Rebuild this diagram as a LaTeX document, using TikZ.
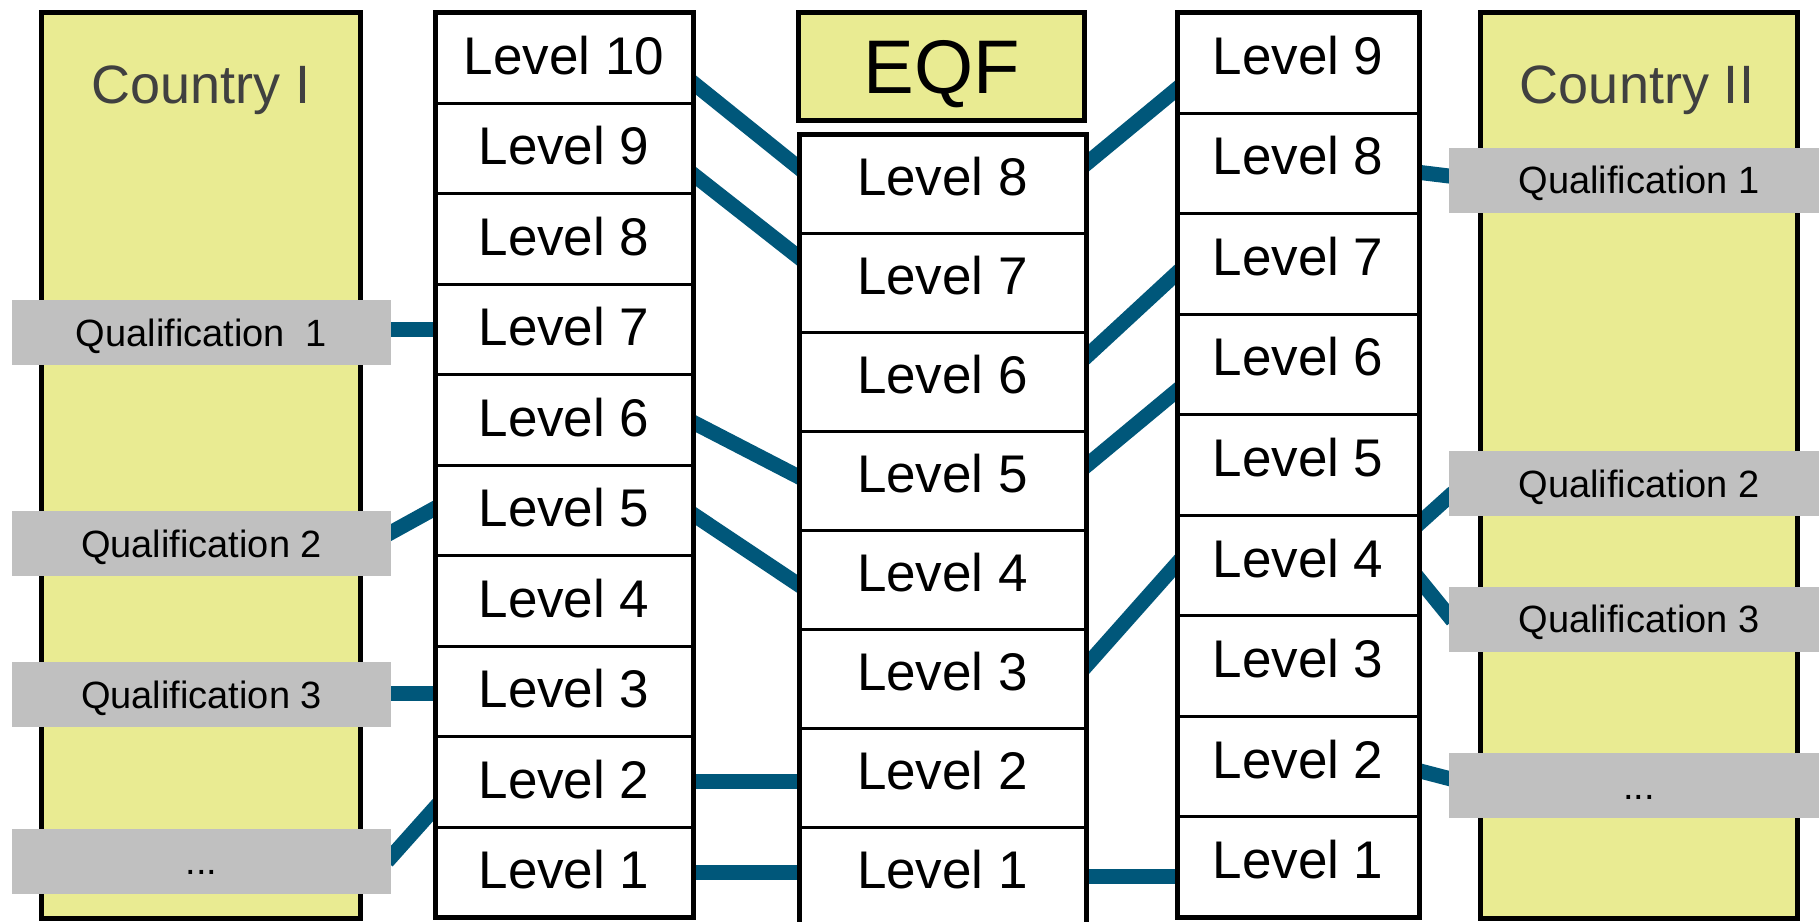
\documentclass[tikz,border=0pt]{standalone}
\usepackage{fontspec}
\setmainfont{Liberation Sans}
\definecolor{panel}{RGB}{233,235,146}
\definecolor{tag}{RGB}{192,192,192}
\definecolor{link}{RGB}{0,87,122}
\definecolor{caption}{RGB}{64,64,64}
\pgfdeclarelayer{bg}
\pgfsetlayers{bg,main}
\tikzset{
  country/.style={draw, line width=5pt, fill=panel, inner sep=0pt, outer sep=0pt},
  ctrytext/.style={font=\fontsize{54}{60}\selectfont, text=caption, inner sep=0pt,
    text height=38.7pt, text depth=0pt},
  levelrow/.style={draw, line width=3pt, fill=white, inner sep=0pt, outer sep=0pt,
    font=\fontsize{53}{60}\selectfont, text height=38pt},
  rowA/.style={levelrow, minimum width=258pt, minimum height=90.5pt, text depth=5pt},
  rowE/.style={levelrow, minimum width=287pt, minimum height=99pt, text depth=15pt},
  rowB/.style={levelrow, minimum width=242pt, minimum height=100.56pt, text depth=15pt},
  frame/.style={draw, line width=5pt},
  header/.style={draw, line width=5pt, fill=panel, inner sep=0pt, outer sep=0pt,
    minimum width=286pt, minimum height=108pt, font=\fontsize{76}{80}\selectfont,
    text height=54.5pt, text depth=0pt},
  qual/.style={fill=tag, inner sep=0pt, outer sep=0pt, minimum height=65pt,
    font=\fontsize{38}{42}\selectfont, text height=27.3pt, text depth=0pt},
  qualL/.style={qual, minimum width=379pt},
  qualR/.style={qual, minimum width=380pt},
  link/.style={draw=link, line width=15pt, shorten <=-6pt, shorten >=-6pt}
}
\begin{document}
\begin{tikzpicture}[x=1pt, y=-1pt]
\useasboundingbox (0,0) rectangle (1819,921);

% national frameworks
\node[country, minimum width=319pt, minimum height=905.5pt] (CI) at (201,465.25) {};
\node[country, minimum width=317pt, minimum height=905.5pt] (CII) at (1638.5,465.25) {};
\node[ctrytext] (tCI) at (201,84.5) {Country I};
\node[ctrytext] (tCII) at (1637,84.5) {Country II};

% qualifications of country I
\node[qualL] (qL1) at (201.5,332.5) {Qualification\ \ 1};
\node[qualL] (qL2) at (201.5,543.5) {Qualification 2};
\node[qualL] (qL3) at (201.5,694.5) {Qualification 3};
\node[qualL] (qLd) at (201.5,861) {...};

% qualifications of country II
\node[qualR] (qR1) at (1639,180) {Qualification 1};
\node[qualR] (qR2) at (1639,483.5) {Qualification 2};
\node[qualR] (qR3) at (1639,619) {Qualification 3};
\node[qualR] (qRd) at (1639,785.5) {...};

% level ladders
\foreach \n [evaluate=\n as \yy using 12.5+90.5*(10.5-\n)] in {10,9,...,1}
  \node[rowA] (A\n) at (564,\yy) {Level \n};
\draw[frame] (A10.north west) rectangle (A1.south east);

\node[header] (EQF) at (941.5,66.5) {EQF};
\foreach \n [evaluate=\n as \yy using 134+99*(8.5-\n)] in {8,7,...,1}
  \node[rowE] (E\n) at (942.5,\yy) {Level \n};
\draw[frame] (E8.north west) rectangle (E1.south east);

\foreach \n [evaluate=\n as \yy using 12.5+100.56*(9.5-\n)] in {9,8,...,1}
  \node[rowB] (B\n) at (1298,\yy) {Level \n};
\draw[frame] (B9.north west) rectangle (B1.south east);

% referencing links
\begin{pgfonlayer}{bg}
  \draw[link] (A7.west -| qL1.east) -- (A7.west);
  \draw[link] ([yshift=11pt]qL2.east) -- ([yshift=2pt]A5.west);
  \draw[link] ([yshift=-2pt]A3.west -| qL3.east) -- ([yshift=-2pt]A3.west);
  \draw[link] ([yshift=4pt]qLd.east) -- ([yshift=-26pt]A2.west);

  \draw[link] ([yshift=-25pt]A10.east) -- ([yshift=15.5pt]E8.west);
  \draw[link] ([yshift=-26pt]A9.east) -- ([yshift=25pt]E7.west);
  \draw[link] ([yshift=-2.5pt]A6.east) -- ([yshift=3.5pt]E5.west);
  \draw[link] ([yshift=-4pt]A5.east) -- ([yshift=-5.5pt]E4.west);
  \draw[link] (A2.east) -- (A2.east -| E2.west);
  \draw[link] (A1.east) -- (A1.east -| E1.west);

  \draw[link] ([yshift=19.5pt]E8.east) -- ([yshift=-26pt]B9.west);
  \draw[link] ([yshift=24.5pt]E6.east) -- ([yshift=-9pt]B7.west);
  \draw[link] ([yshift=14.5pt]E5.east) -- ([yshift=-26pt]B6.west);
  \draw[link] ([yshift=12.5pt]E3.east) -- ([yshift=2pt]B4.west);
  \draw[link] (E1.east) -- (E1.east -| B1.west);

  \draw[link] ([yshift=-9pt]B8.east) -- ([yshift=4pt]qR1.west);
  \draw[link] ([yshift=42pt]B4.east) -- ([yshift=-13pt]qR2.west);
  \draw[link] ([yshift=-13.5pt]B4.east) -- ([yshift=3pt]qR3.west);
  \draw[link] ([yshift=-4pt]B2.east) -- ([yshift=7pt]qRd.west);
\end{pgfonlayer}
\end{tikzpicture}
\end{document}
